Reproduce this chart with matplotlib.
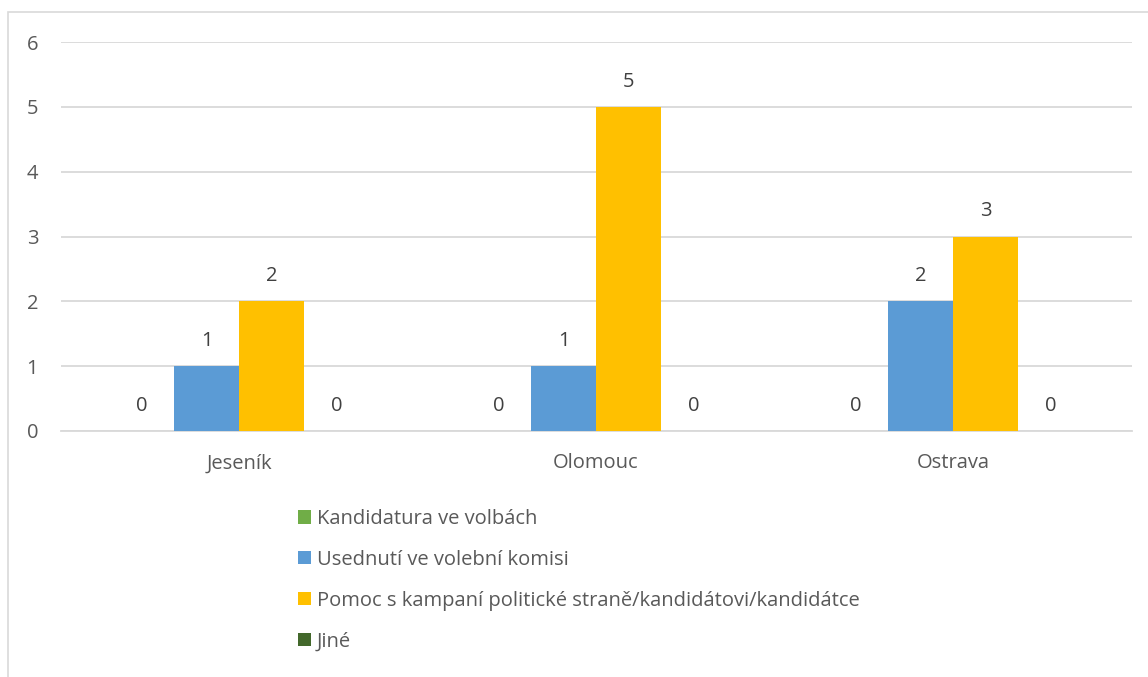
import numpy as np
import matplotlib.pyplot as plt
from matplotlib.patches import Rectangle, Patch

categories = ['Jeseník', 'Olomouc', 'Ostrava']
series_names = [
    'Kandidatura ve volbách',
    'Usednutí ve volební komisi',
    'Pomoc s kampaní politické straně/kandidátovi/kandidátce',
    'Jiné',
]
kandidatura = [0, 0, 0]
usednuti = [1, 1, 2]
pomoc = [2, 5, 3]
jine = [0, 0, 0]
y_ticks = [0, 1, 2, 3, 4, 5, 6]

COLORS = ['#70AD47', '#5B9BD5', '#FFC000', '#43682B']
TEXT = '#595959'
GRID = '#D9D9D9'
FS = 14.5

plt.rcParams['font.family'] = ['Open Sans', 'DejaVu Sans']

W, H = 1148, 677
fig = plt.figure(figsize=(W / 100, H / 100), dpi=100)
ax = fig.add_axes([60.5 / W, 1 - 431 / H, (1131.5 - 60.5) / W, (431 - 42) / H])

# chart border
fig.patches.append(Rectangle((8 / W, -0.1), 1.2, 1.1 - 12 / H, transform=fig.transFigure,
                             fill=False, edgecolor=GRID, linewidth=1.2))

all_series = [kandidatura, usednuti, pomoc, jine]
x = np.arange(len(categories))
bar_w = 65 / 357
for i, vals in enumerate(all_series):
    pos = x + (i - 1.5) * bar_w
    ax.bar(pos, vals, width=bar_w, color=COLORS[i], zorder=3)
    for px, v in zip(pos, vals):
        ax.annotate(str(v), (px, v), xytext=(0, 18), textcoords='offset points',
                    ha='center', va='center', fontsize=FS, color='#404040')

ax.set_xlim(-0.5, len(categories) - 0.5)
ax.set_ylim(0, 6)
ax.set_yticks(y_ticks)
ax.set_xticks(x)
ax.set_xticklabels(categories)
ax.tick_params(axis='both', length=0, labelsize=FS, labelcolor=TEXT)
ax.tick_params(axis='y', pad=16)
ax.tick_params(axis='x', pad=16)
ax.yaxis.grid(True, color=GRID, linewidth=1.3, zorder=0)
for side in ['top', 'right', 'left']:
    ax.spines[side].set_visible(False)
ax.spines['bottom'].set_color(GRID)
ax.spines['bottom'].set_linewidth(1.3)

handles = [Patch(facecolor=c, edgecolor='none') for c in COLORS]
leg = fig.legend(handles, series_names, loc='upper left', bbox_to_anchor=(290 / W, 1 - 501 / H),
                 frameon=False, fontsize=FS, labelcolor=TEXT, handlelength=0.63,
                 handleheight=0.63, handletextpad=0.3, labelspacing=1.03, borderaxespad=0)

fig.savefig('out.png', dpi=100)
